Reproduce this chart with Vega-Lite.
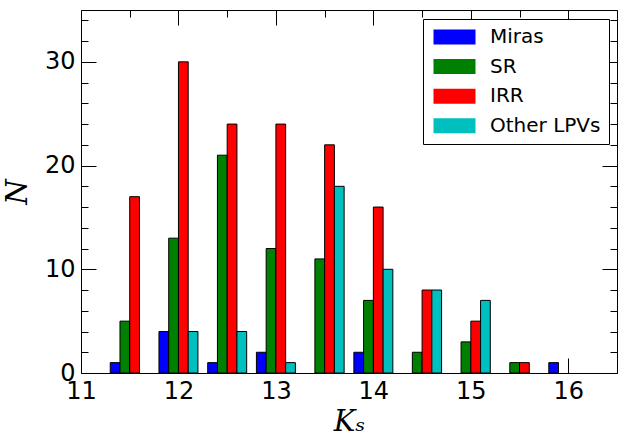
{
  "$schema": "https://vega.github.io/schema/vega-lite/v6.json",
  "width": 536,
  "height": 363,
  "autosize": {"type": "none"},
  "padding": {"left": 81, "top": 10, "right": 2, "bottom": 63},
  "config": {"view": {"stroke": "black", "strokeWidth": 1}, "font": "DejaVu Sans"},
  "data": {
    "values": [
      {"type": "Miras", "lo": 11.3, "hi": 11.4, "n": 1},
      {"type": "SR", "lo": 11.4, "hi": 11.5, "n": 5},
      {"type": "IRR", "lo": 11.5, "hi": 11.6, "n": 17},
      {"type": "Miras", "lo": 11.8, "hi": 11.9, "n": 4},
      {"type": "SR", "lo": 11.9, "hi": 12.0, "n": 13},
      {"type": "IRR", "lo": 12.0, "hi": 12.1, "n": 30},
      {"type": "Other LPVs", "lo": 12.1, "hi": 12.2, "n": 4},
      {"type": "Miras", "lo": 12.3, "hi": 12.4, "n": 1},
      {"type": "SR", "lo": 12.4, "hi": 12.5, "n": 21},
      {"type": "IRR", "lo": 12.5, "hi": 12.6, "n": 24},
      {"type": "Other LPVs", "lo": 12.6, "hi": 12.7, "n": 4},
      {"type": "Miras", "lo": 12.8, "hi": 12.9, "n": 2},
      {"type": "SR", "lo": 12.9, "hi": 13.0, "n": 12},
      {"type": "IRR", "lo": 13.0, "hi": 13.1, "n": 24},
      {"type": "Other LPVs", "lo": 13.1, "hi": 13.2, "n": 1},
      {"type": "SR", "lo": 13.4, "hi": 13.5, "n": 11},
      {"type": "IRR", "lo": 13.5, "hi": 13.6, "n": 22},
      {"type": "Other LPVs", "lo": 13.6, "hi": 13.7, "n": 18},
      {"type": "Miras", "lo": 13.8, "hi": 13.9, "n": 2},
      {"type": "SR", "lo": 13.9, "hi": 14.0, "n": 7},
      {"type": "IRR", "lo": 14.0, "hi": 14.1, "n": 16},
      {"type": "Other LPVs", "lo": 14.1, "hi": 14.2, "n": 10},
      {"type": "SR", "lo": 14.4, "hi": 14.5, "n": 2},
      {"type": "IRR", "lo": 14.5, "hi": 14.6, "n": 8},
      {"type": "Other LPVs", "lo": 14.6, "hi": 14.7, "n": 8},
      {"type": "SR", "lo": 14.9, "hi": 15.0, "n": 3},
      {"type": "IRR", "lo": 15.0, "hi": 15.1, "n": 5},
      {"type": "Other LPVs", "lo": 15.1, "hi": 15.2, "n": 7},
      {"type": "SR", "lo": 15.4, "hi": 15.5, "n": 1},
      {"type": "IRR", "lo": 15.5, "hi": 15.6, "n": 1},
      {"type": "Miras", "lo": 15.8, "hi": 15.9, "n": 1}
    ]
  },
  "layer": [
    {
      "mark": {"type": "bar", "stroke": "black", "strokeWidth": 1, "opacity": 1},
      "encoding": {
        "x": {
          "field": "lo", "type": "quantitative",
          "scale": {"domain": [11, 16.5], "nice": false, "zero": false},
          "axis": {
            "orient": "bottom", "grid": false, "domain": false,
            "values": [11, 12, 13, 14, 15, 16],
            "format": "d",
            "tickColor": "black", "tickWidth": 1, "tickSize": -15,
            "labelFontSize": 24, "labelColor": "black", "labelPadding": 21,
            "labelFlush": false, "labelOverlap": false,
            "title": "Kₛ", "titleFont": "DejaVu Serif", "titleFontStyle": "italic",
            "titleFontWeight": "normal", "titleFontSize": 29, "titleColor": "black", "titlePadding": 4
          }
        },
        "x2": {"field": "hi"},
        "y": {
          "field": "n", "type": "quantitative",
          "scale": {"domain": [0, 35], "nice": false},
          "axis": {
            "orient": "left", "grid": false, "domain": false,
            "values": [0, 10, 20, 30],
            "format": "d",
            "tickColor": "black", "tickWidth": 1, "tickSize": -15,
            "labelFontSize": 24, "labelColor": "black", "labelPadding": 21,
            "labelFlush": false, "labelOverlap": false,
            "title": "N", "titleFont": "DejaVu Serif", "titleFontStyle": "italic",
            "titleFontWeight": "normal", "titleFontSize": 29, "titleColor": "black", "titlePadding": 12
          }
        },
        "y2": {"datum": 0},
        "color": {
          "field": "type", "type": "nominal",
          "scale": {"domain": ["Miras", "SR", "IRR", "Other LPVs"], "range": ["#0000ff", "#008000", "#ff0000", "#00bfbf"]},
          "legend": {
            "title": null, "orient": "none", "legendX": 342, "legendY": 9,
            "padding": 8, "strokeColor": "black", "fillColor": "white", "cornerRadius": 0,
            "symbolType": "M-1,-1H4.6V1H-1Z", "symbolSize": 225, "symbolStrokeWidth": 0, "symbolOpacity": 1,
            "labelFontSize": 20, "labelColor": "black", "labelOffset": 39, "rowPadding": 9.6
          }
        }
      }
    },
    {
      "mark": {"type": "bar", "opacity": 0},
      "encoding": {
        "x": {
          "field": "lo", "type": "quantitative",
          "axis": {
            "orient": "top", "grid": false, "domain": false, "labels": false, "title": null,
            "values": [11, 11.5, 12, 12.5, 13, 13.5, 14, 14.5, 15, 15.5, 16, 16.5],
            "tickColor": "black", "tickWidth": 1,
            "tickSize": {"condition": {"test": "datum.value % 1 === 0", "value": -15}, "value": -7}
          }
        },
        "x2": {"field": "hi"},
        "y": {
          "field": "n", "type": "quantitative",
          "axis": {
            "orient": "right", "grid": false, "domain": false, "labels": false, "title": null,
            "values": [0, 2, 4, 6, 8, 10, 12, 14, 16, 18, 20, 22, 24, 26, 28, 30, 32, 34],
            "tickColor": "black", "tickWidth": 1,
            "tickSize": {"condition": {"test": "datum.value % 10 === 0", "value": -15}, "value": -7}
          }
        },
        "y2": {"datum": 0}
      }
    },
    {
      "mark": {"type": "bar", "opacity": 0},
      "encoding": {
        "x": {
          "field": "lo", "type": "quantitative",
          "axis": {
            "orient": "bottom", "grid": false, "domain": false, "labels": false, "title": null,
            "values": [11.5, 12.5, 13.5, 14.5, 15.5, 16.5],
            "tickColor": "black", "tickWidth": 1, "tickSize": -7
          }
        },
        "x2": {"field": "hi"},
        "y": {
          "field": "n", "type": "quantitative",
          "axis": {
            "orient": "left", "grid": false, "domain": false, "labels": false, "title": null,
            "values": [2, 4, 6, 8, 12, 14, 16, 18, 22, 24, 26, 28, 32, 34],
            "tickColor": "black", "tickWidth": 1, "tickSize": -7
          }
        },
        "y2": {"datum": 0}
      }
    }
  ],
  "resolve": {"axis": {"x": "independent", "y": "independent"}}
}
